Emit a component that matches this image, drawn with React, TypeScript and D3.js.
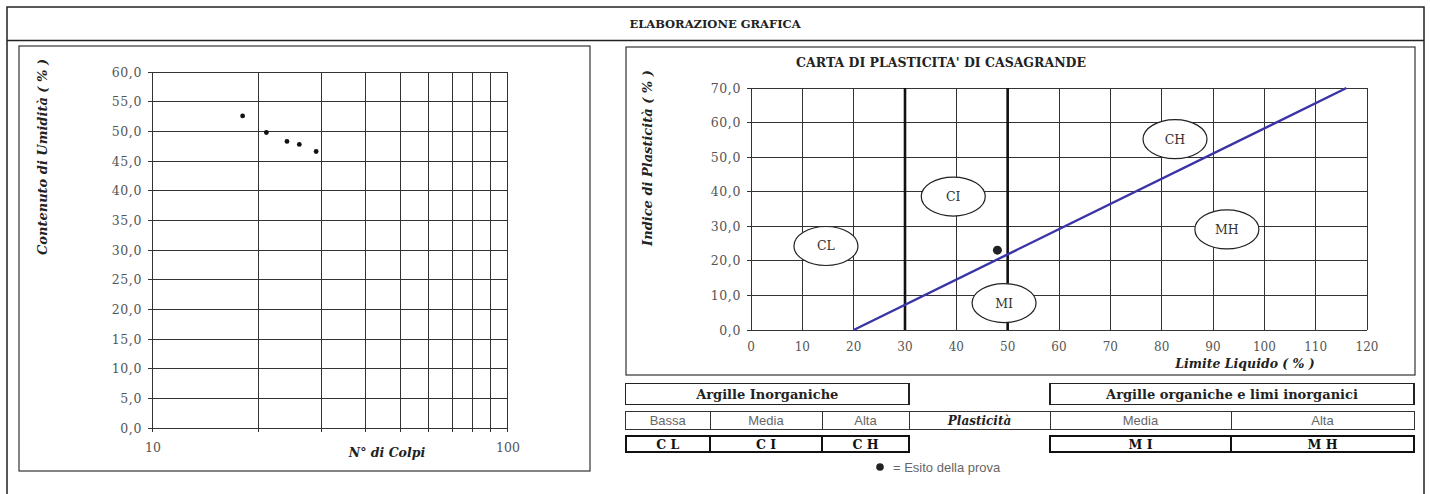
import { useEffect, useRef } from "react";
import * as d3 from "d3";

// curva di flusso (Casagrande): colpi / umidità
const blowCounts = [18, 21, 24, 26, 29];
const moistureValues = [52.6, 49.8, 48.3, 47.8, 46.6];
const moistureTicks = [0, 5, 10, 15, 20, 25, 30, 35, 40, 45, 50, 55, 60];
const blowGridTicks = [10, 20, 30, 40, 50, 60, 70, 80, 90, 100];
const blowLabelTicks = [10, 100];

// carta di plasticità
const liquidLimitTicks = [0, 10, 20, 30, 40, 50, 60, 70, 80, 90, 100, 110, 120];
const plasticityTicks = [0, 10, 20, 30, 40, 50, 60, 70];
const aLineLL = [20, 116];
const aLinePI = [0, 70];
const boundaryLL = [30, 50];
const zoneNames = ["CL", "CI", "CH", "MI", "MH"];
const zoneLL = [14.6, 39.4, 82.6, 49.3, 92.7];
const zonePI = [24.3, 38.6, 55.2, 7.8, 29.1];
const testLL = [48];
const testPI = [23.1];

// tabella di classificazione
const groupTitles = ["Argille Inorganiche", "Argille organiche e limi inorganici"];
const plasticityLabels = ["Bassa", "Media", "Alta", "Plasticità", "Media", "Alta"];
const classCodes = ["C L", "C I", "C H", "", "M I", "M H"];

const SERIF = "'DejaVu Serif', 'Liberation Serif', serif";
const NARROW = "'Liberation Sans Narrow', 'Liberation Sans', sans-serif";

export default function App() {
  const svgRef = useRef<SVGSVGElement | null>(null);

  useEffect(() => {
    const svg = d3.select(svgRef.current);
    svg.selectAll("*").remove();

    const fmt = (v: number) => d3.format(".1f")(v).replace(".", ",");

    svg.append("rect").attr("width", 1430).attr("height", 494).attr("fill", "#fff");

    // cornice generale
    svg.append("rect")
      .attr("x", 7).attr("y", 7).attr("width", 1417).attr("height", 500)
      .attr("fill", "none").attr("stroke", "#222").attr("stroke-width", 1.5);
    svg.append("line")
      .attr("x1", 7).attr("x2", 1424).attr("y1", 40.5).attr("y2", 40.5)
      .attr("stroke", "#222").attr("stroke-width", 1.5);
    svg.append("text")
      .attr("x", 715).attr("y", 27.5).attr("text-anchor", "middle")
      .attr("font-family", SERIF).attr("font-weight", "bold").attr("font-size", 11.5)
      .attr("fill", "#222").text("ELABORAZIONE GRAFICA");

    // ---------- grafico sinistro ----------
    svg.append("rect")
      .attr("x", 19).attr("y", 46).attr("width", 571).attr("height", 425)
      .attr("fill", "none").attr("stroke", "#333").attr("stroke-width", 1.2);

    const lx = d3.scaleLog().domain([10, 100]).range([152, 507]);
    const ly = d3.scaleLinear().domain([0, 60]).range([428, 72]);
    const left = svg.append("g").attr("shape-rendering", "crispEdges");

    left.selectAll(".hgrid").data(moistureTicks).join("line")
      .attr("x1", lx(10) - 4).attr("x2", lx(100))
      .attr("y1", (d) => ly(d)).attr("y2", (d) => ly(d))
      .attr("stroke", "#333").attr("stroke-width", 1);
    left.selectAll(".vgrid").data(blowGridTicks).join("line")
      .attr("x1", (d) => lx(d)).attr("x2", (d) => lx(d))
      .attr("y1", ly(0) + 4).attr("y2", ly(60))
      .attr("stroke", "#333").attr("stroke-width", 1);

    svg.selectAll(".ylab").data(moistureTicks).join("text")
      .attr("x", 142).attr("y", (d) => ly(d) + 4.5)
      .attr("text-anchor", "end").attr("font-family", SERIF).attr("font-size", 12.5)
      .attr("letter-spacing", 0.6)
      .attr("fill", "#555").text((d) => fmt(d));
    svg.selectAll(".xlab").data(blowLabelTicks).join("text")
      .attr("x", (d) => lx(d) + 1).attr("y", 452)
      .attr("text-anchor", "middle").attr("font-family", SERIF).attr("font-size", 12.5)
      .attr("fill", "#555").text((d) => String(d));

    svg.selectAll(".pt").data(blowCounts).join("circle")
      .attr("cx", (d) => lx(d)).attr("cy", (_, i) => ly(moistureValues[i]))
      .attr("r", 2.4).attr("fill", "#111");

    svg.append("text")
      .attr("transform", "translate(47,157) rotate(-90)")
      .attr("text-anchor", "middle").attr("font-family", SERIF)
      .attr("font-weight", "bold").attr("font-style", "italic").attr("font-size", 13)
      .attr("fill", "#222").text("Contenuto di Umidità ( % )");
    svg.append("text")
      .attr("x", 387).attr("y", 457).attr("text-anchor", "middle").attr("font-family", SERIF)
      .attr("font-weight", "bold").attr("font-style", "italic").attr("font-size", 12.5)
      .attr("fill", "#222").text("N° di Colpi");

    // ---------- carta di plasticità ----------
    svg.append("rect")
      .attr("x", 626).attr("y", 47).attr("width", 789).attr("height", 328)
      .attr("fill", "none").attr("stroke", "#333").attr("stroke-width", 1.2);

    const rx = d3.scaleLinear().domain([0, 120]).range([751, 1367]);
    const ry = d3.scaleLinear().domain([0, 70]).range([330, 88]);
    const right = svg.append("g").attr("shape-rendering", "crispEdges");

    right.selectAll(".hgrid").data(plasticityTicks).join("line")
      .attr("x1", rx(0) - 4).attr("x2", rx(120))
      .attr("y1", (d) => ry(d)).attr("y2", (d) => ry(d))
      .attr("stroke", "#333").attr("stroke-width", 1);
    right.selectAll(".vgrid").data(liquidLimitTicks).join("line")
      .attr("x1", (d) => rx(d)).attr("x2", (d) => rx(d))
      .attr("y1", ry(0)).attr("y2", ry(70))
      .attr("stroke", "#333").attr("stroke-width", 1);

    svg.selectAll(".bound").data(boundaryLL).join("line")
      .attr("x1", (d) => rx(d)).attr("x2", (d) => rx(d))
      .attr("y1", ry(0)).attr("y2", ry(70))
      .attr("stroke", "#111").attr("stroke-width", 2.6);

    const aLine = d3.line<number>()
      .x((d) => rx(d))
      .y((_, i) => ry(aLinePI[i]));
    svg.append("path")
      .attr("d", aLine(aLineLL))
      .attr("fill", "none").attr("stroke", "#3a34a6").attr("stroke-width", 2.4);

    svg.selectAll(".zone").data(zoneNames).join("ellipse")
      .attr("cx", (_, i) => rx(zoneLL[i])).attr("cy", (_, i) => ry(zonePI[i]))
      .attr("rx", 32).attr("ry", 19.5)
      .attr("fill", "#fff").attr("stroke", "#222").attr("stroke-width", 1.2);
    svg.selectAll(".zonelab").data(zoneNames).join("text")
      .attr("x", (_, i) => rx(zoneLL[i])).attr("y", (_, i) => ry(zonePI[i]) + 4.5)
      .attr("text-anchor", "middle").attr("font-family", SERIF).attr("font-size", 12.5)
      .attr("fill", "#333").text((d) => d);

    svg.selectAll(".test").data(testLL).join("circle")
      .attr("cx", (d) => rx(d)).attr("cy", (_, i) => ry(testPI[i]))
      .attr("r", 4.5).attr("fill", "#222");

    svg.selectAll(".rylab").data(plasticityTicks).join("text")
      .attr("x", 741).attr("y", (d) => ry(d) + 4.5)
      .attr("text-anchor", "end").attr("font-family", SERIF).attr("font-size", 12.5)
      .attr("letter-spacing", 0.6)
      .attr("fill", "#555").text((d) => fmt(d));
    svg.selectAll(".rxlab").data(liquidLimitTicks).join("text")
      .attr("x", (d) => rx(d)).attr("y", 351)
      .attr("text-anchor", "middle").attr("font-family", SERIF).attr("font-size", 12)
      .attr("fill", "#555").text((d) => String(d));

    svg.append("text")
      .attr("x", 941).attr("y", 67).attr("text-anchor", "middle").attr("font-family", SERIF)
      .attr("font-weight", "bold").attr("font-size", 12.5)
      .attr("fill", "#222").text("CARTA DI PLASTICITA' DI CASAGRANDE");
    svg.append("text")
      .attr("transform", "translate(652,158) rotate(-90)")
      .attr("text-anchor", "middle").attr("font-family", SERIF)
      .attr("font-weight", "bold").attr("font-style", "italic").attr("font-size", 13)
      .attr("fill", "#222").text("Indice di Plasticità ( % )");
    svg.append("text")
      .attr("x", 1245).attr("y", 368).attr("text-anchor", "middle").attr("font-family", SERIF)
      .attr("font-weight", "bold").attr("font-style", "italic").attr("font-size", 12.5)
      .attr("fill", "#222").text("Limite Liquido ( % )");

    // ---------- tabella ----------
    const cols = [625.5, 710, 822, 909, 1050, 1231, 1414];
    const table = svg.append("g").attr("shape-rendering", "crispEdges");

    // riga 1: gruppi
    const groupSpans = [[cols[0], cols[3]], [cols[4], cols[6]]];
    groupSpans.forEach(([x0, x1], i) => {
      table.append("rect")
        .attr("x", x0).attr("y", 383.5).attr("width", x1 - x0).attr("height", 21)
        .attr("fill", "none").attr("stroke", "#222").attr("stroke-width", 1.5);
      svg.append("text")
        .attr("x", (x0 + x1) / 2).attr("y", 399).attr("text-anchor", "middle")
        .attr("font-family", SERIF).attr("font-weight", "bold").attr("font-size", 13)
        .attr("fill", "#222").text(groupTitles[i]);
    });

    // riga 2: plasticità
    table.append("rect")
      .attr("x", cols[0]).attr("y", 411).attr("width", cols[6] - cols[0]).attr("height", 18.5)
      .attr("fill", "none").attr("stroke", "#333").attr("stroke-width", 1);
    cols.slice(1, 6).forEach((x) => {
      table.append("line")
        .attr("x1", x).attr("x2", x).attr("y1", 411).attr("y2", 429.5)
        .attr("stroke", "#333").attr("stroke-width", 1);
    });
    plasticityLabels.forEach((label, i) => {
      const isHead = i === 3;
      svg.append("text")
        .attr("x", (cols[i] + cols[i + 1]) / 2).attr("y", 424.5).attr("text-anchor", "middle")
        .attr("font-family", isHead ? SERIF : NARROW)
        .attr("font-weight", isHead ? "bold" : "normal")
        .attr("font-style", isHead ? "italic" : "normal")
        .attr("font-size", isHead ? 12 : 13)
        .attr("fill", isHead ? "#222" : "#666").text(label);
    });

    // riga 3: sigle
    classCodes.forEach((code, i) => {
      if (!code) return;
      table.append("rect")
        .attr("x", cols[i]).attr("y", 436).attr("width", cols[i + 1] - cols[i]).attr("height", 16)
        .attr("fill", "none").attr("stroke", "#111").attr("stroke-width", 2);
      svg.append("text")
        .attr("x", (cols[i] + cols[i + 1]) / 2).attr("y", 449).attr("text-anchor", "middle")
        .attr("font-family", SERIF).attr("font-weight", "bold").attr("font-size", 12.5)
        .attr("fill", "#111").text(code);
    });

    // legenda
    svg.append("circle").attr("cx", 880).attr("cy", 467).attr("r", 3.8).attr("fill", "#222");
    svg.append("text")
      .attr("x", 893).attr("y", 471.5)
      .attr("font-family", NARROW).attr("font-size", 13)
      .attr("fill", "#666").text("=  Esito della prova");
  }, []);

  return (
    <div style={{ position: "absolute", left: 0, top: 0 }}>
      <svg ref={svgRef} width={1430} height={494} style={{ display: "block" }} />
    </div>
  );
}
